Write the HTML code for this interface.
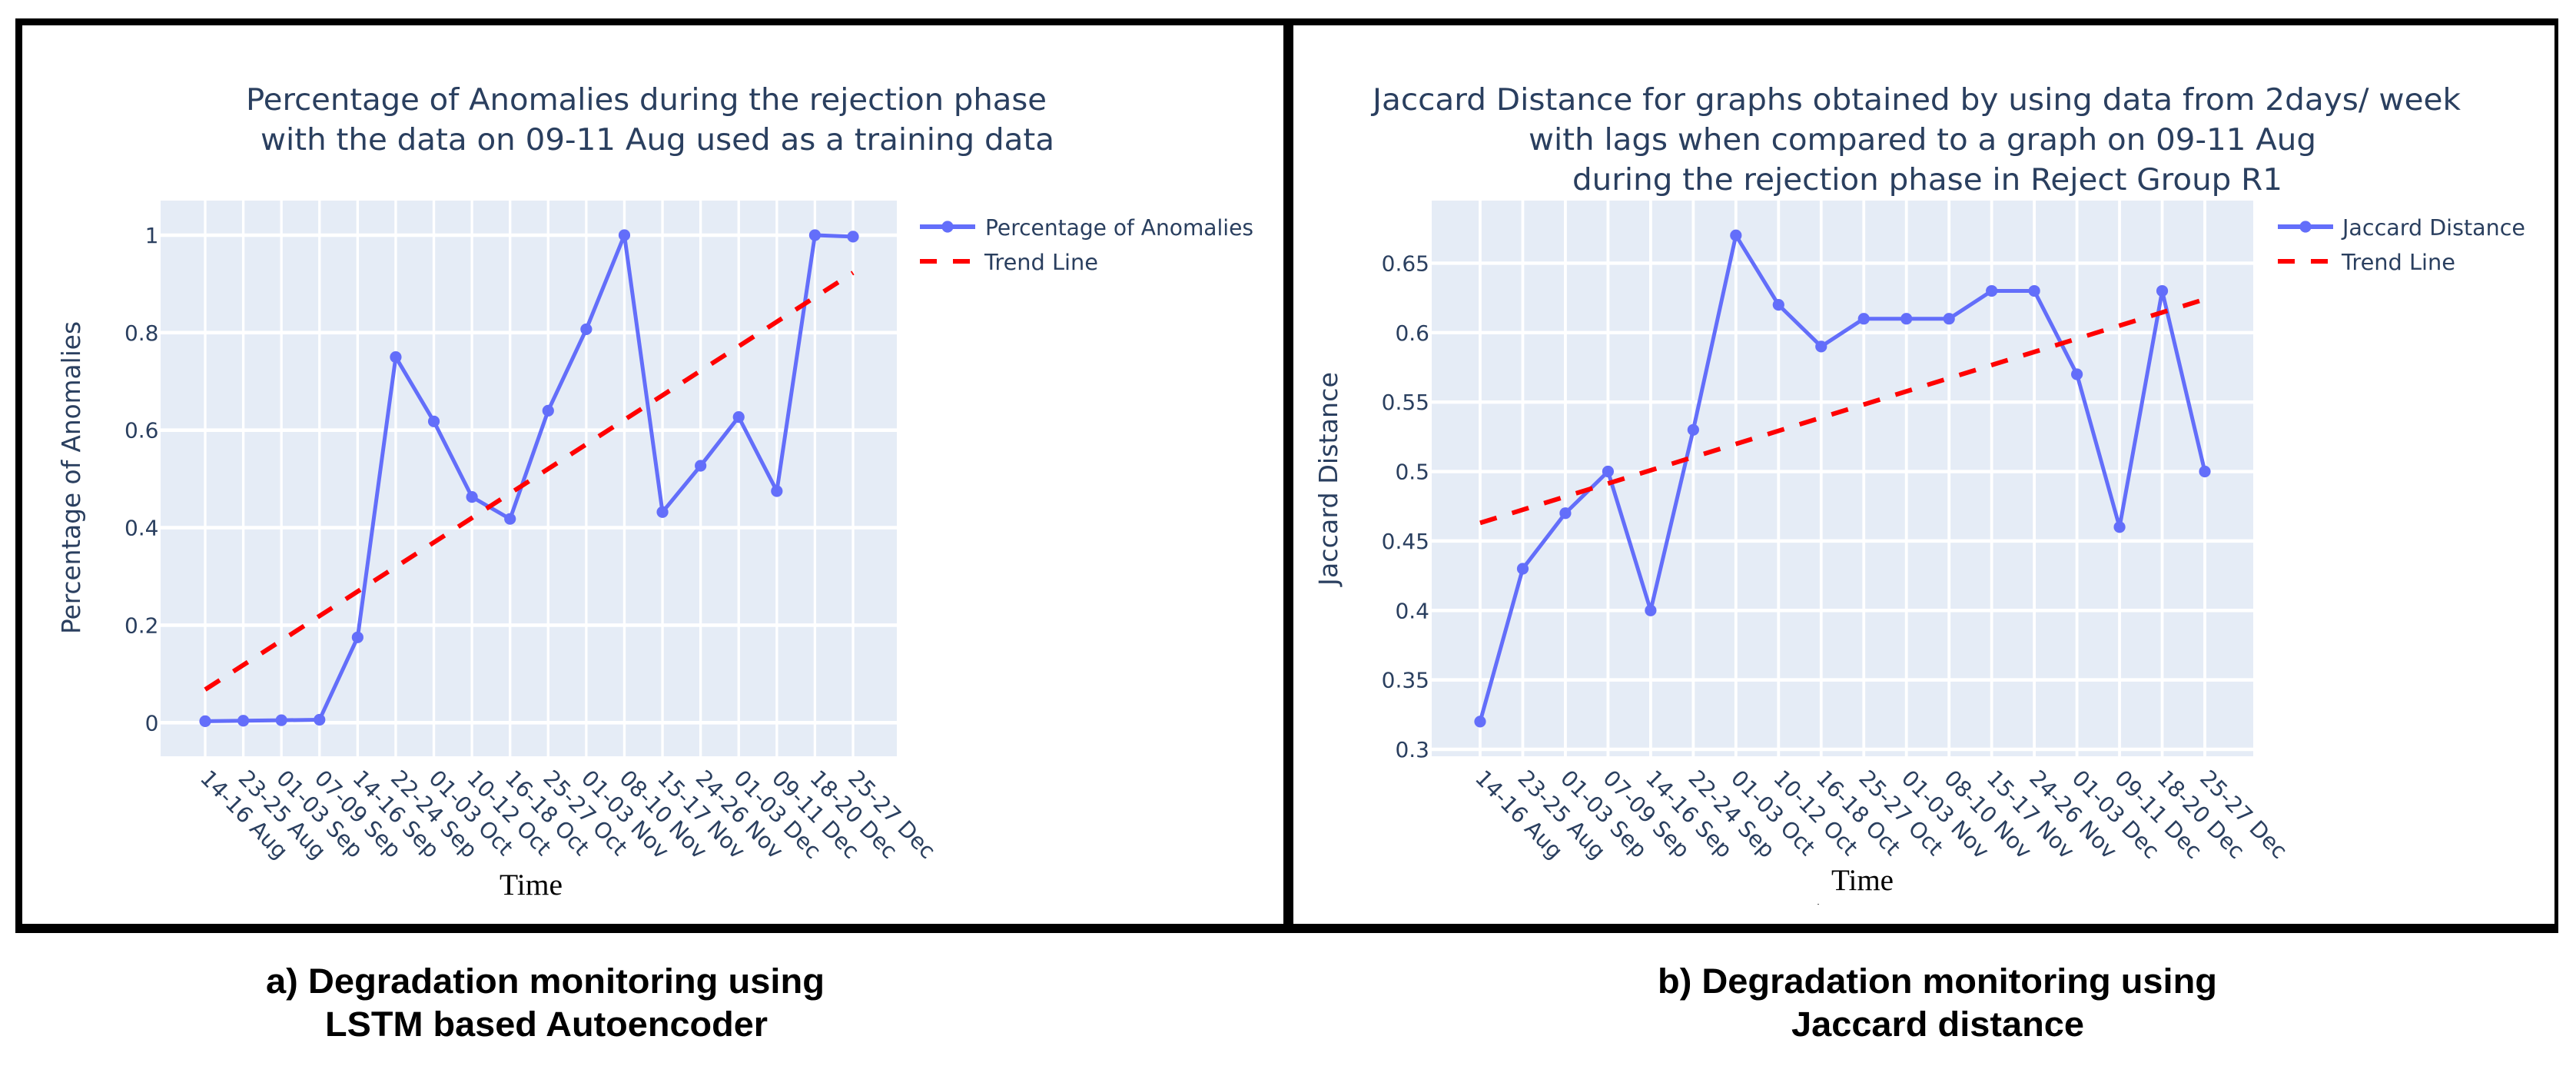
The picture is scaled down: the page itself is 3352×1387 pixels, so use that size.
<!DOCTYPE html>
<html lang="en">
<head>
<meta charset="utf-8">
<title>Degradation monitoring charts</title>
<style>
html,body{margin:0;padding:0;background:#fff;width:3352px;height:1387px;overflow:hidden}
svg{display:block}
.dv{font-family:"DejaVu Sans","Liberation Sans",sans-serif;fill:#2a3f5f}
.cap{font-family:"Liberation Sans",Arial,sans-serif;font-weight:700;font-size:45px;fill:#000}
.tm{font-family:"Liberation Serif","Times New Roman",serif;font-size:39px;fill:#000}
</style>
</head>
<body>
<svg id="figure" xmlns="http://www.w3.org/2000/svg" width="3352" height="1387" viewBox="0 0 3352 1387">
  <rect x="0" y="0" width="3352" height="1387" fill="#fff"/>
  <g fill="#000">
    <rect x="20" y="24" width="3309" height="9"/>
    <rect x="20" y="1202" width="3309" height="12"/>
    <rect x="20" y="24" width="9" height="1190"/>
    <rect x="1670" y="24" width="13" height="1190"/>
    <rect x="3324" y="24" width="5" height="1190"/>
  </g>

  <g class="dv" font-size="39">
    <text x="320" y="143" textLength="1042" lengthAdjust="spacingAndGlyphs">Percentage of Anomalies during the rejection phase</text>
    <text x="339" y="195" textLength="1033" lengthAdjust="spacingAndGlyphs">with the data on 09-11 Aug used as a training data</text>
  </g>
  <g class="dv" font-size="39">
    <text x="1786" y="143" textLength="1416" lengthAdjust="spacingAndGlyphs">Jaccard Distance for graphs obtained by using data from 2days/ week</text>
    <text x="1989" y="195" textLength="1025" lengthAdjust="spacingAndGlyphs">with lags when compared to a graph on 09-11 Aug</text>
    <text x="2046" y="247" textLength="924" lengthAdjust="spacingAndGlyphs">during the rejection phase in Reject Group R1</text>
  </g>

  <g id="left-chart"></g>
  <g id="right-chart"></g>

  <text class="tm" x="650" y="1164" textLength="82" lengthAdjust="spacingAndGlyphs">Time</text>
  <text class="tm" x="2383" y="1158" textLength="81" lengthAdjust="spacingAndGlyphs">Time</text>
  <rect x="2365" y="1176" width="2" height="1" fill="#555"/>

  <text class="dv" font-size="33" transform="translate(104 825) rotate(-90)" textLength="407" lengthAdjust="spacingAndGlyphs">Percentage of Anomalies</text>
  <text class="dv" font-size="33" transform="translate(1740 762) rotate(-90)" textLength="278" lengthAdjust="spacingAndGlyphs">Jaccard Distance</text>

  <text class="cap" x="346" y="1292" textLength="727" lengthAdjust="spacingAndGlyphs">a) Degradation monitoring using</text>
  <text class="cap" x="423" y="1348" textLength="576" lengthAdjust="spacingAndGlyphs">LSTM based Autoencoder</text>
  <text class="cap" x="2157" y="1292" textLength="728" lengthAdjust="spacingAndGlyphs">b) Degradation monitoring using</text>
  <text class="cap" x="2331" y="1348" textLength="381" lengthAdjust="spacingAndGlyphs">Jaccard distance</text>
</svg>

<script>
const categories = ["14-16 Aug","23-25 Aug","01-03 Sep","07-09 Sep","14-16 Sep","22-24 Sep","01-03 Oct","10-12 Oct","16-18 Oct","25-27 Oct","01-03 Nov","08-10 Nov","15-17 Nov","24-26 Nov","01-03 Dec","09-11 Dec","18-20 Dec","25-27 Dec"];
const anomalyValues = [0.003,0.004,0.005,0.006,0.175,0.75,0.618,0.463,0.418,0.64,0.807,1,0.432,0.527,0.627,0.475,1,0.997];
const anomalyTrendEnds = [0.068,0.923];
const anomalyTicks = [0,0.2,0.4,0.6,0.8,1];
const anomalyTickLabels = ["0","0.2","0.4","0.6","0.8","1"];
const jaccardValues = [0.32,0.43,0.47,0.5,0.4,0.53,0.67,0.62,0.59,0.61,0.61,0.61,0.63,0.63,0.57,0.46,0.63,0.5];
const jaccardTrendEnds = [0.463,0.624];
const jaccardTicks = [0.3,0.35,0.4,0.45,0.5,0.55,0.6,0.65];
const jaccardTickLabels = ["0.3","0.35","0.4","0.45","0.5","0.55","0.6","0.65"];

const SVG_NS = "http://www.w3.org/2000/svg";
const BLUE = "#636efa";

function make(parent, tag, attrs) {
  const el = document.createElementNS(SVG_NS, tag);
  for (const k in attrs) el.setAttribute(k, attrs[k]);
  parent.appendChild(el);
  return el;
}

function drawChart(root, layout, values, trendEnds, ticks, tickLabels, seriesName) {
  const xScale = i => layout.x0 + (layout.x1 - layout.x0) * i / (categories.length - 1);
  const yScale = v => layout.yA + (layout.yB - layout.yA) * (v - layout.vA) / (layout.vB - layout.vA);

  const bg = make(root, "rect", {x: layout.left, y: layout.top, width: layout.right - layout.left, height: layout.bottom - layout.top, fill: "#e5ecf6"});
  
  

  categories.forEach((c, i) => {
    const g = make(root, "line", {x1: xScale(i), x2: xScale(i), y1: layout.top, y2: layout.bottom, stroke: "#fff", "stroke-width": layout.gridX});
    
    
  });
  ticks.forEach((t, i) => {
    const g = make(root, "line", {x1: layout.left, x2: layout.right, y1: yScale(t), y2: yScale(t), stroke: "#fff", "stroke-width": layout.gridY});
    
    
    const lab = make(root, "text", {x: layout.tickRight, y: yScale(t) + 10, "text-anchor": "end", "font-size": 28, class: "dv"});
    lab.textContent = tickLabels[i];
    
    
  });

  categories.forEach((c, i) => {
    const lab = make(root, "text", {transform: "translate(" + (xScale(i) - 8) + " 1014) rotate(45.5)", "font-size": 28.5, class: "dv"});
    lab.textContent = c;
    
    
  });

  const pts = values.map((v, i) => xScale(i) + "," + yScale(v)).join(" ");
  const series = make(root, "polyline", {points: pts, fill: "none", stroke: BLUE, "stroke-width": 5, "stroke-linejoin": "round"});
  
  
  values.forEach((v, i) => {
    const m = make(root, "circle", {cx: xScale(i), cy: yScale(v), r: 7.6, fill: BLUE});
    
    
  });

  const trend = make(root, "line", {x1: xScale(0), y1: yScale(trendEnds[0]), x2: xScale(categories.length - 1), y2: yScale(trendEnds[1]), stroke: "#ff0000", "stroke-width": 6, "stroke-dasharray": "22.5 21"});
  
  

  const l = make(root, "g", {});
  
  
  const lLine = make(l, "line", {x1: layout.legX, x2: layout.legX + 72, y1: 295, y2: 295, stroke: BLUE, "stroke-width": 6});
  
  
  const lDot = make(l, "circle", {cx: layout.legX + 36, cy: 295, r: 7.6, fill: BLUE});
  
  
  const lText = make(l, "text", {x: layout.legTextX, y: 306, "font-size": 28.5, class: "dv", textLength: layout.legW, lengthAdjust: "spacingAndGlyphs"});
  lText.textContent = seriesName;
  
  
  const tLine = make(l, "line", {x1: layout.legX, x2: layout.legX + 72, y1: 340, y2: 340, stroke: "#ff0000", "stroke-width": 6, "stroke-dasharray": "22 21"});
  
  
  const tText = make(l, "text", {x: layout.legTextX - 1, y: 351, "font-size": 28.5, class: "dv", textLength: 148, lengthAdjust: "spacingAndGlyphs"});
  tText.textContent = "Trend Line";
  
  
}

drawChart(document.getElementById("left-chart"),
  {left: 209, right: 1167, top: 261, bottom: 984, x0: 267, x1: 1110, vA: 0, yA: 940.3, vB: 1, yB: 306, gridX: 3.3, gridY: 4.6, tickRight: 206.5, legX: 1197, legTextX: 1282, legW: 349},
  anomalyValues, anomalyTrendEnds, anomalyTicks, anomalyTickLabels, "Percentage of Anomalies");

drawChart(document.getElementById("right-chart"),
  {left: 1863, right: 2932, top: 261, bottom: 984, x0: 1926, x1: 2869, vA: 0.3, yA: 975, vB: 0.65, yB: 342.4, gridX: 3.8, gridY: 4.4, tickRight: 1860, legX: 2964, legTextX: 3048, legW: 238},
  jaccardValues, jaccardTrendEnds, jaccardTicks, jaccardTickLabels, "Jaccard Distance");
</script>
</body>
</html>
